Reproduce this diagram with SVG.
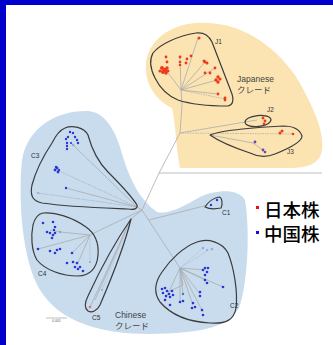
<svg xmlns="http://www.w3.org/2000/svg" width="333" height="345" viewBox="0 0 333 345">
<style>
.br{fill:none;stroke:#a9acae;stroke-width:0.8}
.dsh{fill:none;stroke:#a9acae;stroke-width:0.8;stroke-dasharray:1.5 1}
.pale{fill:none;stroke:#b8c4d8;stroke-width:0.7}
.ol{fill:none;stroke:#3c3c3c;stroke-width:1.2;stroke-linejoin:round}
.lb{font-family:"Liberation Sans",Arial,sans-serif;font-size:6.5px;fill:#333}
.cl{font-family:"Liberation Sans","Noto Sans CJK JP",sans-serif;font-size:8.5px;fill:#444}
.r{fill:#ee3a1a}
.b{fill:#2a35d6}
.pb{fill:#9aa5dd}
.pu{fill:#6a45b8}
.lg{font-family:"Noto Sans CJK JP","Noto Sans CJK SC",sans-serif;font-size:18.5px;font-weight:500;fill:#000}
</style>
<rect x="0" y="0" width="333" height="345" fill="#fff"/>
<rect x="0" y="0" width="333" height="5" fill="#0000cc"/>
<rect x="0" y="0" width="6" height="345" fill="#0000cc"/>

<g id="japanese-clade">
<path d="M146,70 C144,45 165,26 195,23 C235,20 270,40 295,75 C310,100 325,130 322,150 C320,165 305,168 290,168 L180,168 C176,150 176,125 172,108 C160,102 147,90 146,70 Z" fill="#fbe4b2"/>
<text class="cl" x="237" y="82">Japanese</text>
<text class="cl" x="237" y="93">クレード</text>
</g>
<g id="chinese-clade">
<path d="M88,111 C105,112 116,130 123,157 C130,180 140,200 157,212 C170,215 185,205 200,197 C215,190 238,188 245,200 C250,230 248,280 240,305 C232,328 200,333 150,334 C100,334 60,322 40,290 C22,260 18,200 22,160 C28,125 60,110 88,111 Z" fill="#c8dcee"/>
<text class="cl" x="115" y="318">Chinese</text>
<text class="cl" x="115" y="329">クレード</text>
</g>

<g id="connectors">
<path class="br" d="M142,210 L159,173 L180,133 L182,105 L181,90"/>
<path class="br" d="M159,173 L322,173"/>
<path class="dsh" d="M180,133 L295,134"/>
<path class="br" d="M180,133 L257,120"/>
<path class="br" d="M210,135 L253,143 L264,151"/>
<path class="br" d="M181,90 L172,78 L165,70 M181,90 L180,57 M181,90 L198,38 M181,90 L205,62 M181,90 L215,68 M181,90 L217,80 M181,90 L218,94"/>
<path class="dsh" d="M181,90 L225,99"/>
<path class="br" d="M142,210 L137,207 L73,145 M137,207 L66,188"/>
<path class="dsh" d="M137,207 L57,170 M137,207 L38,193"/>
<path class="br" d="M142,210 L90,235 L60,232 L50,230 M90,235 L38,249 M90,235 L72,253 M90,235 L77,265"/>
<path class="pale" d="M90,235 L90,262"/>
<path class="br" d="M142,210 L131,219 L90,307 M131,219 L95,300"/>
<path class="pale" d="M131,219 L102,290"/>
<path class="br" d="M142,210 L180,268 M149,220 L208,205"/>
<path class="pale" d="M180,268 L203,248 M180,268 L212,248"/>
<path class="br" d="M180,268 L205,270 M180,268 L223,287 M180,268 L205,280 M180,268 L200,294 M180,268 L183,285 L168,292 M180,268 L183,294 M180,268 L165,300 M180,268 L180,302 M180,268 L193,305 M180,268 L203,312"/>
<path class="br" d="M46,318 L67,318"/>
<text x="52" y="321.5" font-family="Liberation Sans,sans-serif" font-size="3.5" fill="#666">0.005</text>
</g>

<g id="J1">
<path class="ol" d="M153,53 C160,44 178,36 196,33 C205,32 209,36 212,42 C218,58 226,78 232,94 C234,100 233,105 228,106 C210,106 190,104 178,100 C168,96 160,88 155,78 C150,68 149,60 153,53 Z"/>
<text class="lb" x="215" y="44">J1</text>
<circle class="r" cx="199" cy="38" r="1.5"/>
<circle class="r" cx="162" cy="68" r="2"/><circle class="r" cx="165" cy="70" r="2.2"/><circle class="r" cx="163" cy="72" r="2"/><circle class="r" cx="167" cy="68" r="1.7"/><circle class="r" cx="166" cy="73" r="1.7"/><circle class="r" cx="160" cy="71" r="1.6"/><circle class="r" cx="168" cy="71" r="1.5"/>
<circle class="r" cx="166" cy="57" r="1.4"/><circle class="r" cx="167" cy="62" r="1.4"/>
<circle class="r" cx="180" cy="57" r="1.4"/><circle class="r" cx="180" cy="62" r="1.3"/><circle class="r" cx="180" cy="65" r="1.3"/>
<circle class="r" cx="187" cy="59" r="1.4"/><circle class="r" cx="186" cy="63" r="1.4"/><circle class="r" cx="191" cy="56" r="1.4"/>
<circle class="r" cx="204" cy="61" r="1.5"/><circle class="r" cx="207" cy="63" r="1.5"/><circle class="r" cx="205" cy="62" r="1.4"/>
<circle class="r" cx="205" cy="73" r="1.4"/><circle class="r" cx="210" cy="73" r="1.4"/><circle class="r" cx="215" cy="68" r="1.4"/>
<circle class="r" cx="218" cy="77" r="1.7"/><circle class="r" cx="216" cy="80" r="1.7"/><circle class="r" cx="218" cy="82" r="1.7"/><circle class="r" cx="220" cy="79" r="1.6"/>
<circle class="r" cx="218" cy="94" r="1.4"/>
<circle class="r" cx="225" cy="98" r="1.4"/><circle class="r" cx="225" cy="100" r="1.4"/>
</g>
<g id="J2">
<ellipse class="ol" cx="258" cy="121" rx="13" ry="5.5" transform="rotate(-6 258 121)"/>
<text class="lb" x="267" y="112">J2</text>
<circle class="r" cx="263" cy="118" r="1.4"/><circle class="r" cx="265" cy="121" r="1.4"/><circle class="r" cx="264" cy="124" r="1.4"/>
</g>
<g id="J3">
<path class="ol" d="M210,135 C222,130 260,127 283,126 C294,126 300,130 302,136 C302,142 290,148 275,154 C268,157 260,158 250,153 C235,148 220,142 210,135 Z"/>
<text class="lb" x="287" y="154">J3</text>
<circle class="r" cx="282" cy="131" r="1.5"/><circle class="r" cx="280" cy="133" r="1.5"/><circle class="r" cx="293" cy="134" r="1.3"/>
<circle class="pu" cx="255" cy="142" r="1.4"/><circle class="pu" cx="263" cy="150" r="1.4"/><circle class="pu" cx="265" cy="152" r="1.3"/>
</g>

<g id="C1">
<path class="ol" d="M205,207 C208,202 214,198 219,197 C222,197 223,204 221,208 C216,209 209,209 205,207 Z"/>
<text class="lb" x="222" y="215">C1</text>
<circle class="b" cx="217" cy="200" r="1.2"/><circle class="b" cx="211" cy="205" r="1.2"/>
</g>
<g id="C2">
<path class="ol" d="M197,242 C208,238 222,242 228,253 C234,268 238,292 236,308 C234,320 226,324 210,323 C190,322 172,316 160,302 C153,292 155,282 162,272 C170,260 183,247 197,242 Z"/>
<text class="lb" x="230" y="308">C2</text>
<circle class="pb" cx="203" cy="248" r="1.2"/><circle class="pb" cx="212" cy="249" r="1.2"/><circle class="pb" cx="207" cy="250" r="1.1"/>
<circle class="b" cx="205" cy="268" r="1.3"/><circle class="b" cx="207" cy="272" r="1.3"/><circle class="b" cx="203" cy="270" r="1.3"/><circle class="b" cx="208" cy="268" r="1.3"/><circle class="b" cx="205" cy="275" r="1.3"/>
<circle class="b" cx="223" cy="287" r="1.3"/>
<circle class="b" cx="205" cy="280" r="1.3"/><circle class="b" cx="207" cy="283" r="1.3"/>
<circle class="b" cx="200" cy="292" r="1.3"/><circle class="b" cx="200" cy="296" r="1.3"/>
<circle class="b" cx="162" cy="289" r="1.3"/><circle class="b" cx="165" cy="288" r="1.3"/><circle class="b" cx="167" cy="291" r="1.3"/><circle class="b" cx="163" cy="293" r="1.3"/><circle class="b" cx="169" cy="294" r="1.3"/><circle class="b" cx="172" cy="291" r="1.3"/><circle class="b" cx="173" cy="295" r="1.3"/><circle class="b" cx="166" cy="296" r="1.3"/><circle class="b" cx="170" cy="297" r="1.3"/>
<circle cx="183" cy="294" r="1.2" fill="#3a8a9a"/>
<circle class="b" cx="165" cy="300" r="1.3"/><circle class="b" cx="170" cy="305" r="1.3"/>
<circle class="b" cx="180" cy="302" r="1.3"/><circle class="b" cx="183" cy="301" r="1.3"/>
<circle class="b" cx="193" cy="303" r="1.3"/><circle class="b" cx="195" cy="307" r="1.3"/><circle class="b" cx="192" cy="308" r="1.3"/>
<circle class="b" cx="202" cy="310" r="1.3"/><circle class="b" cx="203" cy="315" r="1.3"/>
</g>
<g id="C3">
<path class="ol" d="M65,128 C72,125 84,127 88,135 C92,150 98,162 108,172 C118,182 130,194 137,205 C138,209 134,210 128,209 C105,208 70,207 42,203 C32,201 30,195 32,185 C36,170 44,155 52,143 C56,135 60,130 65,128 Z"/>
<text class="lb" x="31" y="158">C3</text>
<circle class="b" cx="70" cy="132" r="1.2"/><circle class="b" cx="73" cy="133" r="1.2"/><circle class="b" cx="68" cy="137" r="1.2"/><circle class="b" cx="75" cy="137" r="1.2"/><circle class="b" cx="77" cy="140" r="1.2"/><circle class="b" cx="78" cy="143" r="1.2"/><circle class="b" cx="66" cy="139" r="1.2"/><circle class="b" cx="67" cy="143" r="1.2"/><circle class="b" cx="67" cy="146" r="1.2"/><circle class="b" cx="67" cy="149" r="1.2"/><circle class="b" cx="71" cy="143" r="1.1"/>
<circle cx="73" cy="145" r="1.3" fill="#9aa"/>
<circle class="b" cx="57" cy="168" r="1.4"/><circle class="b" cx="55" cy="170" r="1.4"/><circle class="b" cx="58" cy="172" r="1.4"/><circle class="b" cx="56" cy="167" r="1.2"/><circle class="b" cx="59" cy="170" r="1.2"/>
<circle class="b" cx="66" cy="188" r="1.2"/>
<circle class="pb" cx="38" cy="193" r="1.1"/>
</g>
<g id="C4">
<path class="ol" d="M43,213 C55,212 72,217 86,227 C96,234 99,243 98,255 C97,268 90,276 78,276 C62,276 45,270 37,260 C31,250 31,235 33,225 C35,217 38,214 43,213 Z"/>
<text class="lb" x="38" y="276">C4</text>
<circle class="b" cx="43" cy="223" r="1.3"/><circle class="b" cx="53" cy="222" r="1.3"/><circle class="b" cx="55" cy="227" r="1.3"/><circle class="b" cx="47" cy="232" r="1.3"/><circle class="b" cx="50" cy="233" r="1.3"/><circle class="b" cx="53" cy="235" r="1.3"/><circle class="b" cx="52" cy="238" r="1.3"/><circle class="b" cx="55" cy="233" r="1.3"/><circle class="b" cx="54" cy="230" r="1.2"/>
<circle cx="60" cy="232" r="1.3" fill="#9aa"/>
<circle class="b" cx="38" cy="249" r="1.3"/><circle class="b" cx="50" cy="251" r="1.3"/><circle class="b" cx="57" cy="250" r="1.3"/><circle class="b" cx="60" cy="249" r="1.3"/><circle class="b" cx="55" cy="253" r="1.3"/>
<circle class="b" cx="72" cy="253" r="1.3"/>
<circle class="b" cx="67" cy="263" r="1.3"/><circle class="b" cx="73" cy="262" r="1.3"/><circle class="b" cx="77" cy="263" r="1.3"/><circle class="b" cx="75" cy="267" r="1.3"/><circle class="b" cx="80" cy="267" r="1.3"/><circle class="b" cx="83" cy="271" r="1.3"/><circle class="b" cx="78" cy="269" r="1.3"/>
<circle class="pb" cx="90" cy="262" r="1.1"/>
</g>
<g id="C5">
<path class="ol" d="M131,219 C126,240 115,270 100,305 C97,311 92,313 88,311 C84,308 85,302 88,296 C100,270 115,242 131,219 Z"/>
<text class="lb" x="92" y="320">C5</text>
<circle cx="90" cy="307" r="1.3" fill="#e86a8a"/>
<circle class="pb" cx="102" cy="290" r="1.1"/>
</g>

<g id="legend">
<rect x="256" y="206" width="3" height="3" fill="#ee1111"/>
<text class="lg" x="264" y="217">日本株</text>
<rect x="256" y="231" width="3" height="3" fill="#1111dd"/>
<text class="lg" x="264" y="241">中国株</text>
</g>
</svg>
